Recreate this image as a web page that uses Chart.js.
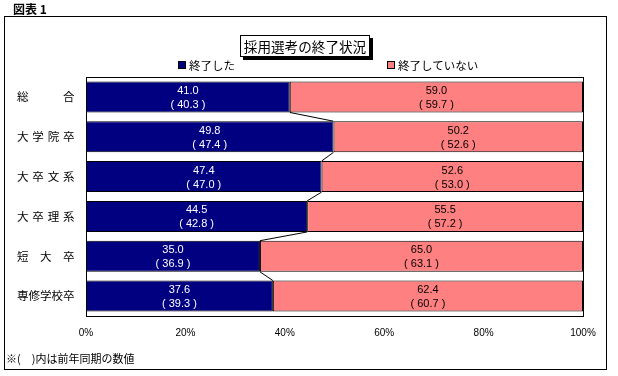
<!DOCTYPE html>
<html lang="ja">
<head>
<meta charset="utf-8">
<title>採用選考の終了状況</title>
<script src="https://cdn.jsdelivr.net/npm/chart.js@4.4.1/dist/chart.umd.min.js"></script>
<style>
    body { margin: 0; background: #fff; }
    #wrap { position: relative; width: 618px; height: 376px; overflow: hidden;
            font-family: "Noto Sans CJK JP", "Liberation Sans", sans-serif; color: #000; }
    #chart { position: absolute; left: 0; top: 0; }
    .frame { position: absolute; left: 4px; top: 16px; width: 601px; height: 352px; border: 1px solid #000; }
    .fig-no { position: absolute; left: 13px; top: 0px; font-size: 12px; font-weight: bold; }
    .title-box { position: absolute; left: 240px; top: 35px; width: 128px; height: 20px; border: 1px solid #000;
                 background: #fff; box-shadow: 3px 3px 0 #000; font-size: 13.6px; line-height: 20px; text-align: center; }
    .legend-item { position: absolute; top: 58px; font-size: 11.5px; line-height: 14px; white-space: nowrap; }
    .legend-item i { display: inline-block; width: 6px; height: 6px; border: 1px solid #000; margin-right: 3px; vertical-align: 1px; }
    .note { position: absolute; left: 6px; top: 350px; font-size: 11px; }
</style>
</head>
<body>
<div id="wrap">
    <canvas id="chart" width="618" height="376"></canvas>
    <div class="frame"></div>
    <div class="fig-no">図表 1</div>
    <div class="title-box">採用選考の終了状況</div>
    <div class="legend-item" style="left:178px"><i style="background:#000080"></i>終了した</div>
    <div class="legend-item" style="left:387px"><i style="background:#FF8080"></i>終了していない</div>
    <div class="note">※(　)内は前年同期の数値</div>
</div>
<script>
// Chart data
const categories = ['総　　　合', '大\u2004学\u2004院\u2004卒', '大\u2004卒\u2004文\u2004系', '大\u2004卒\u2004理\u2004系', '短　大　卒', '専修学校卒'];
const doneValues = [41.0, 49.8, 47.4, 44.5, 35.0, 37.6];
const notDoneValues = [59.0, 50.2, 52.6, 55.5, 65.0, 62.4];
const donePrev = [40.3, 47.4, 47.0, 42.8, 36.9, 39.3];
const notDonePrev = [59.7, 52.6, 53.0, 57.2, 63.1, 60.7];
const xTicks = [0, 20, 40, 60, 80, 100];

// Excel style series lines between the navy bar ends
const seriesLines = {
    id: 'seriesLines',
    afterDatasetsDraw(chart) {
        const ctx = chart.ctx;
        const bars = chart.getDatasetMeta(0).data;
        ctx.save();
        ctx.strokeStyle = '#000';
        ctx.lineWidth = 1;
        for (let i = 0; i < bars.length - 1; i++) {
            const a = bars[i], b = bars[i + 1];
            ctx.beginPath();
            ctx.moveTo(a.x, a.y + a.height / 2);
            ctx.lineTo(b.x, b.y - b.height / 2);
            ctx.stroke();
        }
        ctx.restore();
    }
};

// Two line labels: this year and (previous year)
const barLabels = {
    id: 'barLabels',
    afterDatasetsDraw(chart) {
        const ctx = chart.ctx;
        ctx.save();
        ctx.font = '11px "Liberation Sans", sans-serif';
        ctx.textAlign = 'center';
        ctx.textBaseline = 'middle';
        chart.data.datasets.forEach((ds, di) => {
            chart.getDatasetMeta(di).data.forEach((bar, i) => {
                const cx = (bar.x + bar.base) / 2;
                ctx.fillStyle = ds.labelColor;
                ctx.fillText(ds.data[i].toFixed(1), cx, bar.y - 6);
                ctx.fillText('( ' + ds.prev[i].toFixed(1) + ' )', cx, bar.y + 8);
            });
        });
        ctx.restore();
    }
};

// Plot area border
const plotBorder = {
    id: 'plotBorder',
    afterDraw(chart) {
        const a = chart.chartArea;
        const ctx = chart.ctx;
        ctx.save();
        ctx.strokeStyle = '#000';
        ctx.lineWidth = 1;
        ctx.strokeRect(Math.round(a.left) + 0.5, Math.round(a.top) + 0.5,
            Math.round(a.right - a.left), Math.round(a.bottom - a.top));
        ctx.restore();
    }
};

new Chart(document.getElementById('chart'), {
    type: 'bar',
    data: {
        labels: categories,
        datasets: [
            {
                label: '終了した',
                data: doneValues,
                prev: donePrev,
                labelColor: '#fff',
                backgroundColor: '#000080',
                borderColor: '#000',
                borderWidth: 1,
                borderSkipped: false
            },
            {
                label: '終了していない',
                data: notDoneValues,
                prev: notDonePrev,
                labelColor: '#000',
                backgroundColor: '#FF8080',
                borderColor: '#000',
                borderWidth: 1,
                borderSkipped: false
            }
        ]
    },
    options: {
        indexAxis: 'y',
        responsive: false,
        animation: false,
        datasets: {
            bar: { categoryPercentage: 1, barPercentage: 0.78 }
        },
        layout: { padding: { left: 17, top: 77, right: 35, bottom: 0 } },
        plugins: {
            legend: { display: false },
            tooltip: { enabled: false }
        },
        scales: {
            x: {
                stacked: true,
                min: 0,
                max: 100,
                afterBuildTicks: (scale) => { scale.ticks = xTicks.map(v => ({ value: v })); },
                afterFit: (scale) => { scale.height = 60; },
                grid: { display: false, drawTicks: false },
                border: { display: false },
                ticks: {
                    padding: 11,
                    color: '#000',
                    font: { family: '"Liberation Sans", sans-serif', size: 10 },
                    callback: (v) => v + '%'
                }
            },
            y: {
                stacked: true,
                afterFit: (scale) => { scale.width = 69; },
                grid: { display: false, drawTicks: false },
                border: { display: false },
                ticks: {
                    crossAlign: 'far',
                    color: '#000',
                    font: { family: '"Noto Sans CJK JP", sans-serif', size: 11.5 }
                }
            }
        }
    },
    plugins: [seriesLines, barLabels, plotBorder]
});
</script>
</body>
</html>
